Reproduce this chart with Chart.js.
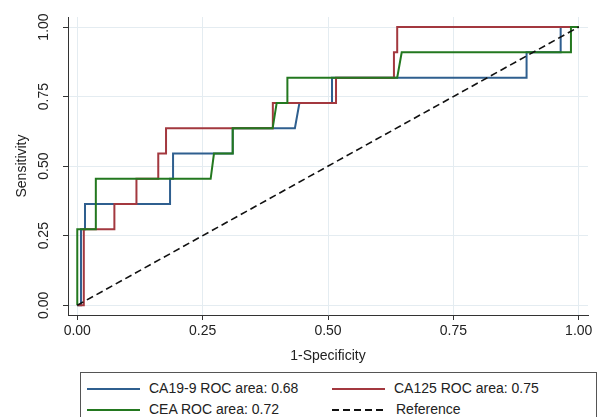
<!DOCTYPE html>
<html>
<head>
<meta charset="utf-8">
<script src="https://cdn.jsdelivr.net/npm/chart.js@4.4.1/dist/chart.umd.min.js"></script>
<style>
    body { margin: 0; background: #fff; font-family: "Liberation Sans", Arial, sans-serif; }
    #wrap { position: relative; width: 601px; height: 417px; overflow: hidden; }
    #roc { position: absolute; left: 0; top: 0; }
    .legend-box {
        position: absolute; left: 80px; top: 372px; width: 517px; height: 60px;
        border: 1px solid #555; box-sizing: border-box;
    }
    .lg-item { position: absolute; font-size: 14px; color: #222; line-height: 16px; }
    .lg-line { position: absolute; width: 53px; height: 2px; }
</style>
</head>
<body>
<div id="wrap">
    <canvas id="roc" width="601" height="368"></canvas>
    <div class="legend-box" id="legend"></div>
</div>
<script>
// ROC curves (x = 1-Specificity, y = Sensitivity)
const ca199X = [0, 0.0074, 0.0074, 0.0154, 0.0154, 0.185, 0.185, 0.191, 0.191, 0.31, 0.31, 0.434, 0.443, 0.508, 0.508, 0.896, 0.896, 0.964, 0.964, 1];
const ca199Y = [0, 0, 0.273, 0.273, 0.364, 0.364, 0.4545, 0.4545, 0.545, 0.545, 0.636, 0.636, 0.727, 0.727, 0.818, 0.818, 0.909, 0.909, 1, 1];

const ca125X = [0, 0.013, 0.013, 0.074, 0.074, 0.118, 0.118, 0.1615, 0.1615, 0.177, 0.177, 0.39, 0.39, 0.516, 0.516, 0.6315, 0.6315, 0.638, 0.638, 1];
const ca125Y = [0, 0, 0.273, 0.273, 0.364, 0.364, 0.4545, 0.4545, 0.545, 0.545, 0.636, 0.636, 0.727, 0.727, 0.818, 0.818, 0.909, 0.909, 1, 1];

const ceaX = [0, 0, 0.037, 0.037, 0.266, 0.2726, 0.31, 0.31, 0.3896, 0.3976, 0.419, 0.419, 0.638, 0.647, 0.9845, 0.9845, 1];
const ceaY = [0, 0.273, 0.273, 0.4545, 0.4545, 0.545, 0.545, 0.636, 0.636, 0.727, 0.727, 0.818, 0.818, 0.909, 0.909, 1, 1];

const refX = [0, 1];
const refY = [0, 1];

const xTicks = [0, 0.25, 0.5, 0.75, 1];
const yTicks = [0, 0.25, 0.5, 0.75, 1];

const seriesLabels = ['CA19-9 ROC area: 0.68', 'CA125 ROC area: 0.75', 'CEA ROC area: 0.72', 'Reference'];

const BLUE = '#2f5f8f';
const RED = '#a3383f';
const GREEN = '#23781f';
const FONT = '"Liberation Sans", Arial, sans-serif';

function toPoints(xs, ys) {
    return xs.map((x, i) => ({ x, y: ys[i] }));
}

function lineSet(label, xs, ys, color, extra = {}) {
    return Object.assign({
        label,
        data: toPoints(xs, ys),
        showLine: true,
        borderColor: color,
        backgroundColor: color,
        borderWidth: 2,
        pointRadius: 0,
        tension: 0,
        fill: false
    }, extra);
}

// y tick labels are rotated in the original, so they are drawn here
const rotatedYLabels = {
    id: 'rotatedYLabels',
    afterDraw(chart) {
        const ctx = chart.ctx;
        const yScale = chart.scales.y;
        ctx.save();
        ctx.fillStyle = '#222';
        ctx.font = '14px ' + FONT;
        ctx.textAlign = 'center';
        ctx.textBaseline = 'middle';
        yTicks.forEach((v) => {
            const py = yScale.getPixelForValue(v);
            ctx.save();
            ctx.translate(44, py);
            ctx.rotate(-Math.PI / 2);
            ctx.fillText(v.toFixed(2), 0, 0);
            ctx.restore();
        });
        ctx.restore();
    }
};

new Chart(document.getElementById('roc'), {
    type: 'scatter',
    data: {
        datasets: [
            lineSet(seriesLabels[3], refX, refY, '#111', { borderDash: [7, 4], borderWidth: 1.6 }),
            lineSet(seriesLabels[2], ceaX, ceaY, GREEN),
            lineSet(seriesLabels[1], ca125X, ca125Y, RED),
            lineSet(seriesLabels[0], ca199X, ca199Y, BLUE)
        ]
    },
    options: {
        responsive: false,
        animation: false,
        layout: { padding: { top: 17, right: 13, left: 0, bottom: 0 } },
        plugins: {
            legend: { display: false },
            tooltip: { enabled: false }
        },
        scales: {
            x: {
                type: 'linear',
                min: -0.0185,
                max: 1.0185,
                afterBuildTicks: (scale) => { scale.ticks = xTicks.map((v) => ({ value: v })); },
                afterFit: (scale) => { scale.height = 53; },
                grid: { color: '#e4ecf1', lineWidth: 1, tickColor: '#333', tickLength: 5 },
                border: { color: '#333', width: 1 },
                ticks: {
                    color: '#222',
                    font: { family: FONT, size: 14 },
                    padding: 3,
                    maxRotation: 0,
                    callback: (v) => Number(v).toFixed(2)
                },
                title: {
                    display: true,
                    text: '1-Specificity',
                    color: '#222',
                    font: { family: FONT, size: 14 },
                    padding: { top: 0, bottom: 3 }
                }
            },
            y: {
                type: 'linear',
                min: -0.035,
                max: 1.036,
                afterBuildTicks: (scale) => { scale.ticks = yTicks.map((v) => ({ value: v })); },
                afterFit: (scale) => { scale.width = 68; },
                grid: { color: '#e4ecf1', lineWidth: 1, tickColor: '#333', tickLength: 5 },
                border: { color: '#333', width: 1 },
                ticks: { display: false },
                title: {
                    display: true,
                    text: 'Sensitivity',
                    color: '#222',
                    font: { family: FONT, size: 14 },
                    padding: { top: 14, bottom: 0 }
                }
            }
        }
    },
    plugins: [rotatedYLabels]
});

// legend below the plot, two columns like the original
const legendEl = document.getElementById('legend');
const legendItems = [
    { text: seriesLabels[0], color: BLUE, col: 0, row: 0 },
    { text: seriesLabels[1], color: RED, col: 1, row: 0 },
    { text: seriesLabels[2], color: GREEN, col: 0, row: 1 },
    { text: seriesLabels[3], color: '#111', col: 1, row: 1, dashed: true }
];
legendItems.forEach((item) => {
    const left = item.col === 0 ? 6 : 251;
    const top = item.row === 0 ? 15 : 36;
    const line = document.createElement('div');
    line.className = 'lg-line';
    line.style.left = left + 'px';
    line.style.top = top + 'px';
    line.style.background = item.dashed
        ? 'repeating-linear-gradient(to right, #111 0 7px, transparent 7px 11px)'
        : item.color;
    legendEl.appendChild(line);

    const label = document.createElement('div');
    label.className = 'lg-item';
    label.style.left = (left + (item.dashed ? 64 : 62)) + 'px';
    label.style.top = (top - 8) + 'px';
    label.textContent = item.text;
    legendEl.appendChild(label);
});
</script>
</body>
</html>
